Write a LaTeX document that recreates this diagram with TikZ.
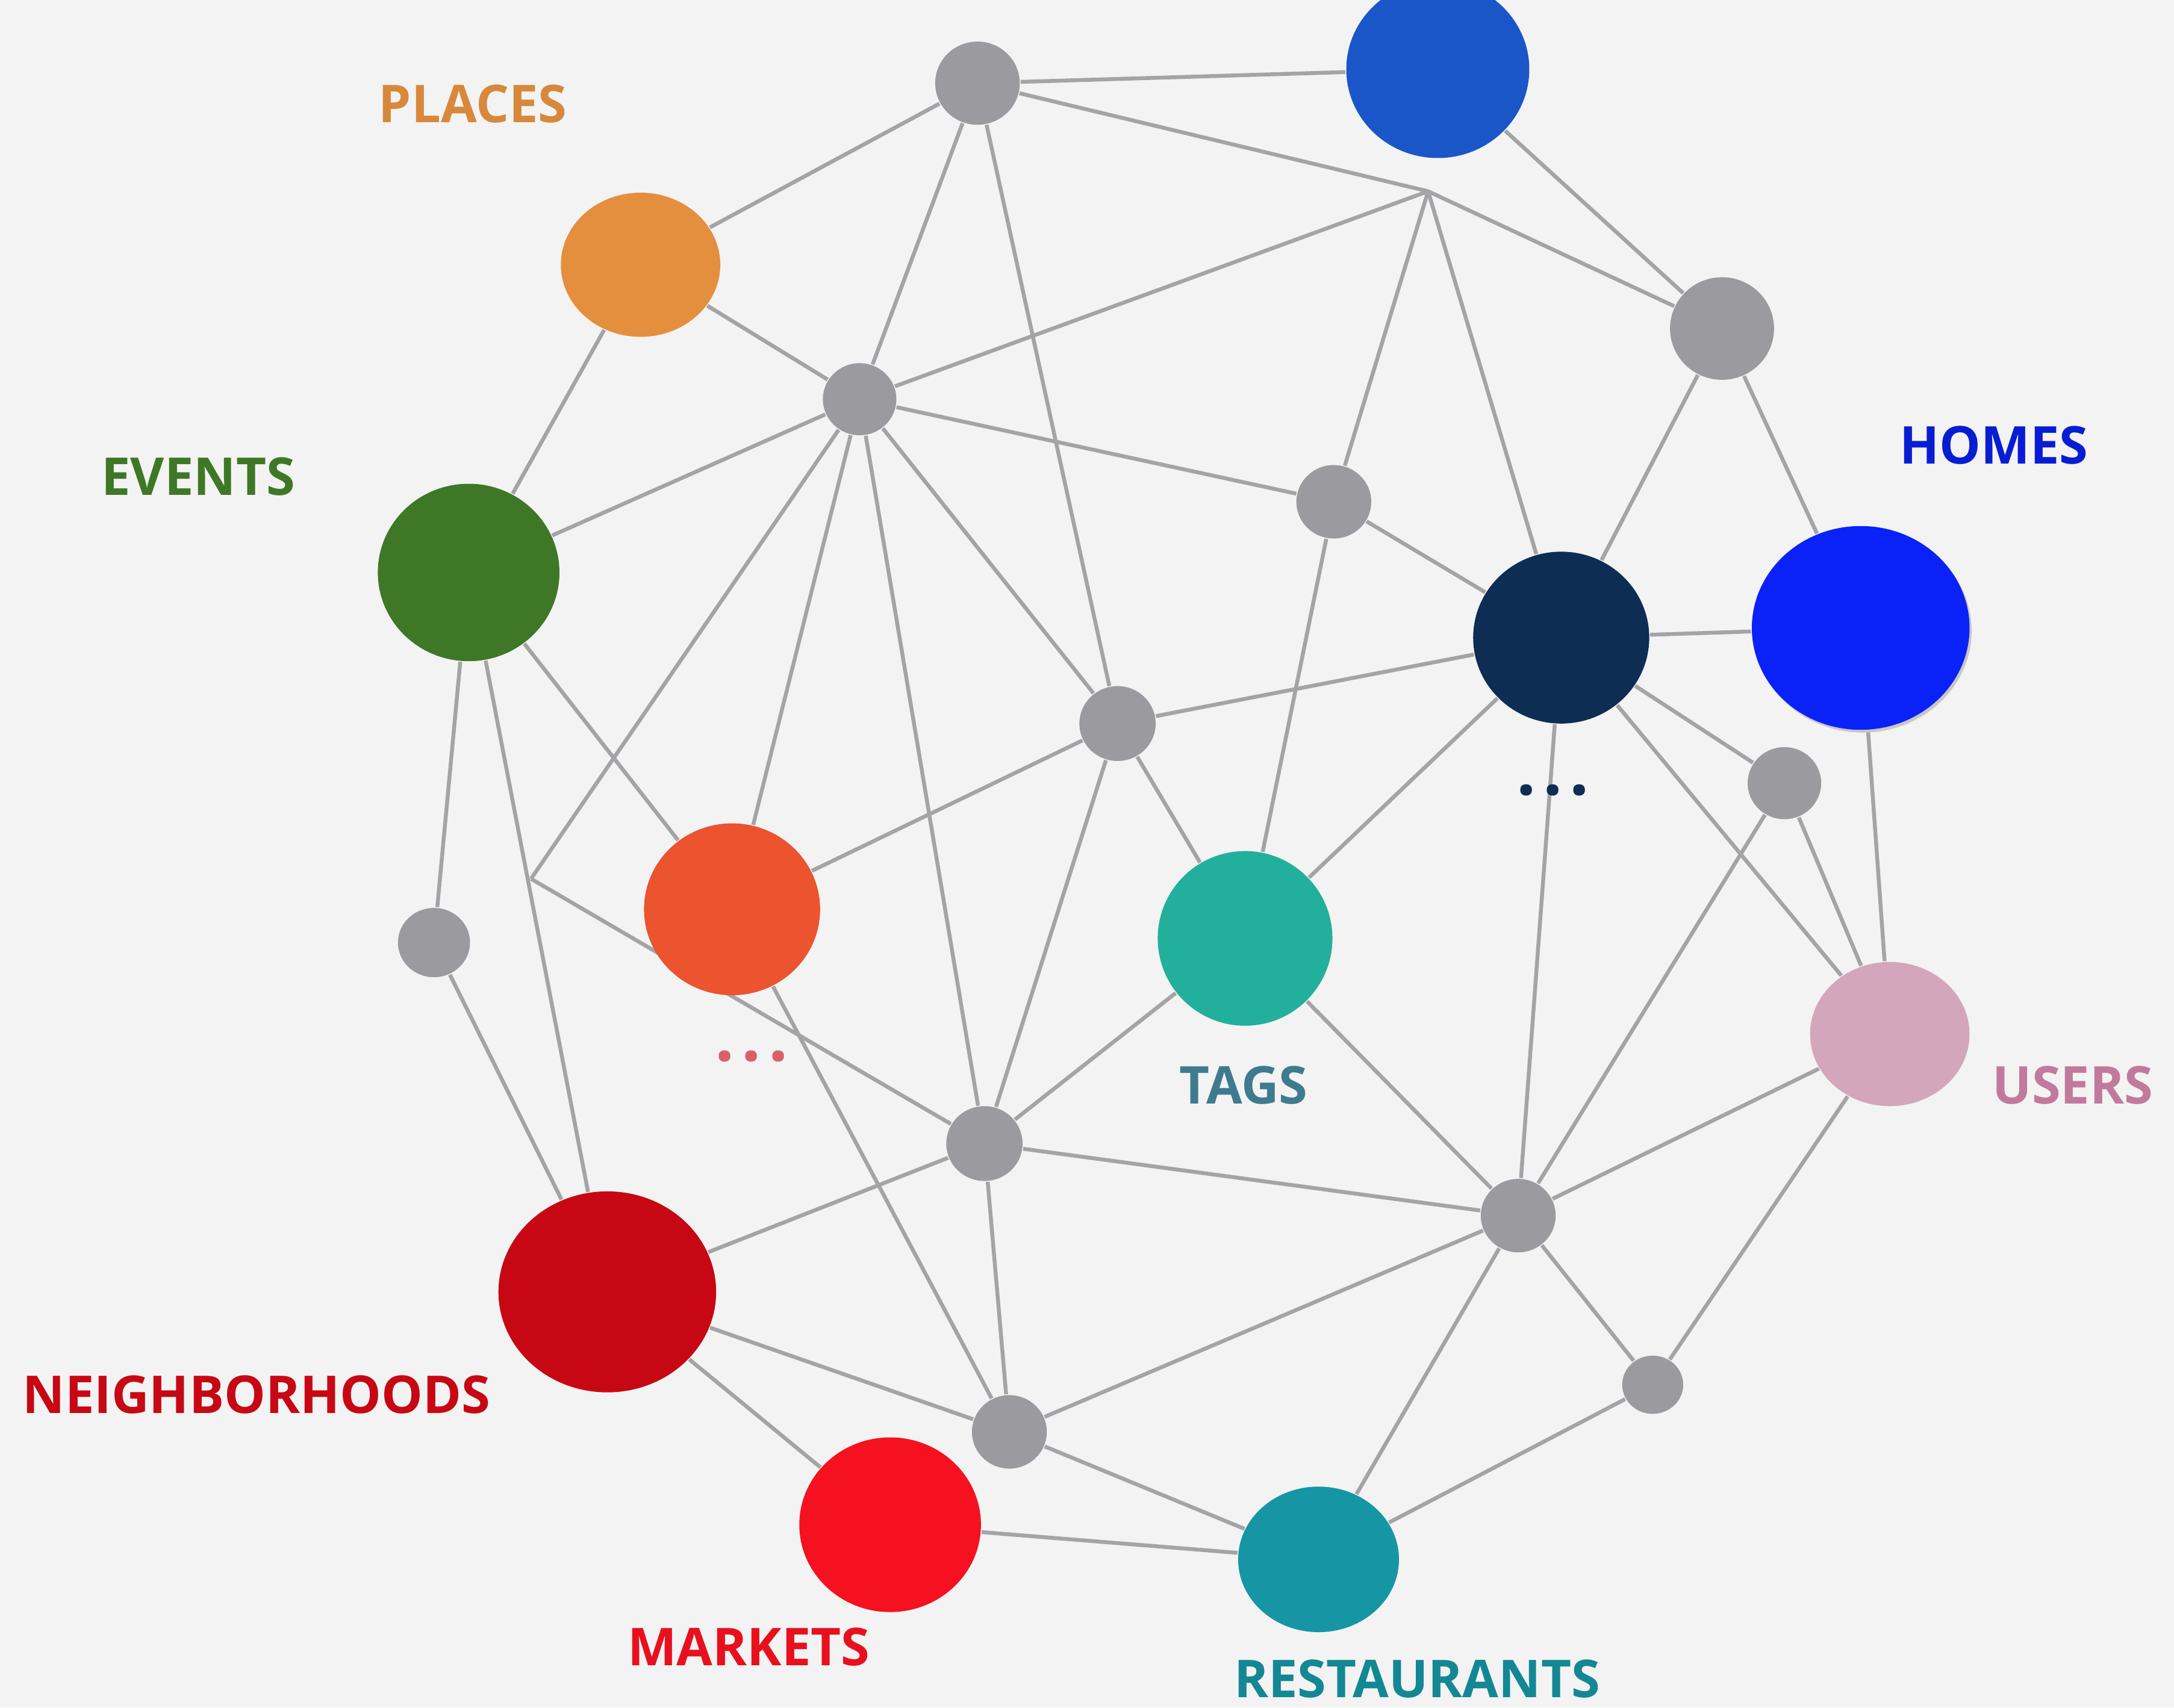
\documentclass[tikz,border=0pt]{standalone}
\usepackage{fontspec}
\setmainfont{Open Sans}
\usetikzlibrary{shapes.geometric,backgrounds}

\definecolor{bggray}{HTML}{F3F3F3}
\definecolor{linkgray}{HTML}{A4A4A7}
\definecolor{dotgray}{HTML}{9B9B9F}
\definecolor{cTop}{HTML}{1A56C8}
\definecolor{cPlaces}{HTML}{E48F3E}
\definecolor{cEvents}{HTML}{3E7826}
\definecolor{cNavy}{HTML}{0E2D54}
\definecolor{cHomes}{HTML}{0A22F8}
\definecolor{cDots}{HTML}{EC532F}
\definecolor{cTags}{HTML}{22B09C}
\definecolor{cUsers}{HTML}{D4A6BB}
\definecolor{cHoods}{HTML}{C70814}
\definecolor{cMarkets}{HTML}{F5111F}
\definecolor{cRest}{HTML}{1696A5}
\definecolor{tUsers}{HTML}{C27A9C}

\newcommand{\moredots}{.\hspace{1.5pt}.\hspace{1.5pt}.}

\begin{document}
\begin{tikzpicture}[
  gnode/.style args={#1/#2}{ellipse,fill=dotgray,inner sep=0,minimum width=#1,minimum height=#2},
  cnode/.style args={#1/#2}{ellipse,inner sep=0,minimum width=#1,minimum height=#2},
  link/.style={draw=linkgray,line width=0.8pt},
  lbl/.style={inner sep=0,font=\fontsize{10.7}{12}\selectfont\bfseries},
  ellip/.style={inner sep=0,font=\fontsize{14}{14}\selectfont\bfseries}]

\useasboundingbox (0,0) rectangle (15.68,-12.32);

% small gray nodes
\node[gnode=0.61cm/0.60cm] (ga) at (7.05,-0.60) {};
\node[gnode=0.53cm/0.52cm] (gb) at (6.20,-2.88) {};
\node[gnode=0.75cm/0.74cm] (gc) at (12.42,-2.37) {};
\node[gnode=0.54cm/0.53cm] (gd) at (9.62,-3.62) {};
\node[gnode=0.55cm/0.54cm] (ge) at (8.06,-5.22) {};
\node[gnode=0.53cm/0.52cm] (gf) at (12.87,-5.65) {};
\node[gnode=0.52cm/0.50cm] (gg) at (3.13,-6.80) {};
\node[gnode=0.55cm/0.54cm] (gh) at (7.10,-8.25) {};
\node[gnode=0.54cm/0.53cm] (gi) at (10.95,-8.77) {};
\node[gnode=0.44cm/0.42cm] (gj) at (11.92,-9.99) {};
\node[gnode=0.54cm/0.53cm] (gk) at (7.28,-10.33) {};
\coordinate (j1) at (10.30,-1.38);
\coordinate (j2) at (3.83,-6.34);

% coloured nodes
\node[cnode=1.32cm/1.28cm,fill=cTop] (top) at (10.37,-0.50) {};
\node[cnode=1.15cm/1.04cm,fill=cPlaces] (places) at (4.62,-1.91) {};
\node[cnode=1.31cm/1.28cm,fill=cEvents] (events) at (3.38,-4.13) {};
\node[cnode=1.27cm/1.24cm,fill=cNavy] (navy) at (11.26,-4.60) {};
\fill[black!22] (13.435,-4.55) ellipse (0.785 and 0.735);
\node[cnode=1.57cm/1.47cm,fill=cHomes] (homes) at (13.42,-4.53) {};
\node[cnode=1.27cm/1.24cm,fill=cDots] (more) at (5.28,-6.56) {};
\node[cnode=1.26cm/1.26cm,fill=cTags] (tags) at (8.98,-6.77) {};
\node[cnode=1.15cm/1.04cm,fill=cUsers] (users) at (13.63,-7.46) {};
\node[cnode=1.57cm/1.45cm,fill=cHoods] (hoods) at (4.38,-9.32) {};
\node[cnode=1.31cm/1.26cm,fill=cMarkets] (markets) at (6.42,-11.00) {};
\node[cnode=1.16cm/1.05cm,fill=cRest] (rest) at (9.51,-11.25) {};

% labels
\node[lbl,text=cPlaces!95!black] (lplaces) at (3.41,-0.75) {PLACES};
\node[lbl,text=cEvents] (levents) at (1.43,-3.44) {EVENTS};
\node[lbl,text=cHomes!85!black] (lhomes) at (14.38,-3.21) {HOMES};
\node[lbl,text=tUsers] (lusers) at (14.95,-7.83) {USERS};
\node[lbl,text={rgb,255:red,63;green,123;blue,142}] (ltags) at (8.97,-7.83) {TAGS};
\node[lbl,text=cHoods] (lhoods) at (1.85,-10.06) {NEIGHBORHOODS};
\node[lbl,text=cMarkets!95!black] (lmarkets) at (5.40,-11.88) {MARKETS};
\node[lbl,text=cRest!90!black] (lrest) at (10.22,-12.11) {RESTAURANTS};
\node[ellip,text={rgb,255:red,217;green,96;blue,107}] (lmore) at (5.42,-7.62) {\moredots};
\node[ellip,text=cNavy] (lnavy) at (11.20,-5.70) {\moredots};

\begin{scope}[on background layer]
\fill[bggray] (0,0) rectangle (15.68,-12.32);
\draw[link] (ga) -- (top);
\draw[link] (ga) -- (j1);
\draw[link] (ga) -- (places);
\draw[link] (ga) -- (gb);
\draw[link] (ga) -- (ge);
\draw[link] (top) -- (gc);
\draw[link] (j1) -- (gb);
\draw[link] (j1) -- (gc);
\draw[link] (j1) -- (gd);
\draw[link] (j1) -- (navy);
\draw[link] (places) -- (events);
\draw[link] (places) -- (gb);
\draw[link] (gb) -- (events);
\draw[link] (gb) -- (gd);
\draw[link] (gb) -- (j2);
\draw[link] (gb) -- (more);
\draw[link] (gb) -- (gh);
\draw[link] (gb) -- (ge);
\draw[link] (events) -- (gg);
\draw[link] (events) -- (hoods);
\draw[link] (events) -- (more);
\draw[link] (j2) -- (gh);
\draw[link] (gg) -- (hoods);
\draw[link] (more) -- (ge);
\draw[link] (more) -- (gk);
\draw[link] (ge) -- (gh);
\draw[link] (ge) -- (tags);
\draw[link] (ge) -- (navy);
\draw[link] (gd) -- (tags);
\draw[link] (gd) -- (navy);
\draw[link] (gc) -- (navy);
\draw[link] (gc) -- (homes);
\draw[link] (navy) -- (homes);
\draw[link] (navy) -- (gf);
\draw[link] (navy) -- (users);
\draw[link] (navy) -- (tags);
\draw[link] (navy) -- (gi);
\draw[link] (gf) -- (users);
\draw[link] (gf) -- (gi);
\draw[link] (homes) -- (users);
\draw[link] (tags) -- (gh);
\draw[link] (tags) -- (gi);
\draw[link] (gh) -- (hoods);
\draw[link] (gh) -- (gk);
\draw[link] (gh) -- (gi);
\draw[link] (hoods) -- (gk);
\draw[link] (hoods) -- (markets);
\draw[link] (gk) -- (rest);
\draw[link] (gk) -- (gi);
\draw[link] (markets) -- (rest);
\draw[link] (rest) -- (gi);
\draw[link] (rest) -- (gj);
\draw[link] (gi) -- (gj);
\draw[link] (gi) -- (users);
\draw[link] (gj) -- (users);
\end{scope}
\end{tikzpicture}
\end{document}
